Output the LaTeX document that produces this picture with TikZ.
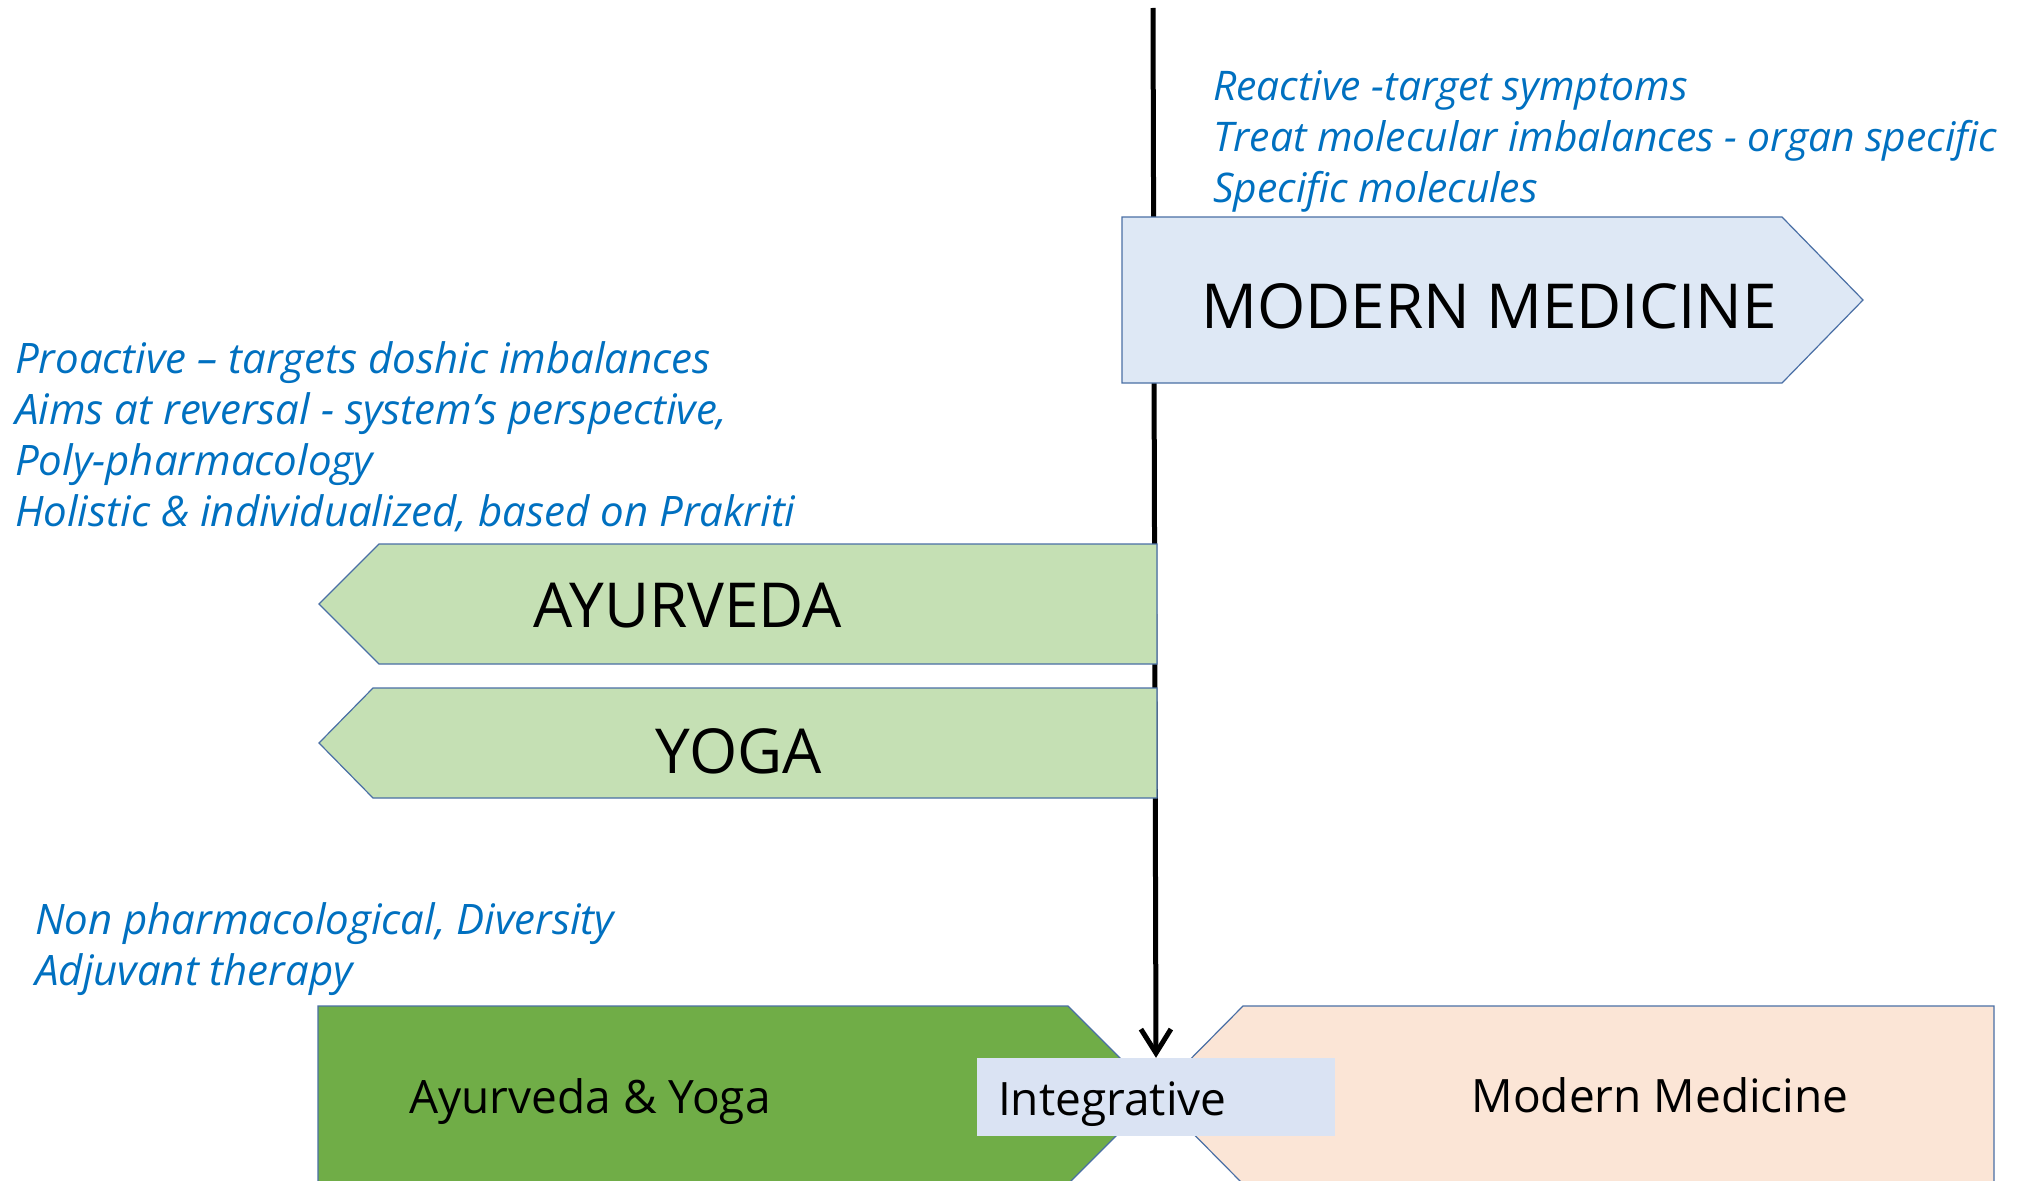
\documentclass[tikz,border=0pt]{standalone}
\usepackage{fontspec}
\setmainfont{Open Sans}
\usetikzlibrary{arrows.meta,backgrounds}
\definecolor{remarkblue}{HTML}{0070C0}
\definecolor{edge}{HTML}{4A6FA5}
\definecolor{mmfill}{HTML}{DEE8F5}
\definecolor{ayfill}{HTML}{C5E0B4}
\definecolor{leaf}{HTML}{70AD47}
\definecolor{peach}{HTML}{FBE5D6}
\definecolor{mixbg}{HTML}{DAE3F3}
\tikzset{
  panel/.style={draw=edge, line width=1.2pt, line join=miter},
  big/.style={text=black, font=\fontsize{62}{70}\selectfont, anchor=base, inner sep=0pt},
  mid/.style={text=black, font=\fontsize{46}{56}\selectfont, anchor=base, inner sep=0pt},
  remark/.style={text=remarkblue, font=\itshape\fontsize{42}{51}\selectfont, align=left, anchor=base west, inner sep=0pt},
  axis/.style={draw=black, line width=5pt, -{Straight Barb[length=24pt,width=30pt]}},
}
\begin{document}
\begin{tikzpicture}[x=1pt, y=-1pt]
  \useasboundingbox (0,0) rectangle (2017,1180);
  % modern medicine, pointing right
  \filldraw[panel, fill=mmfill] (1122,217) -- (1782,217) -- (1863,300) -- (1782,383) -- (1122,383) -- cycle;
  \node[big] (mm) at (1489,328) {MODERN MEDICINE};
  % ayurveda and yoga, pointing left
  \filldraw[panel, fill=ayfill] (1157,544) -- (379,544) -- (319,604) -- (379,664) -- (1157,664) -- cycle;
  \node[big] (ayur) at (688,627) {AYURVEDA};
  \filldraw[panel, fill=ayfill] (1157,688) -- (373,688) -- (319,743) -- (373,798) -- (1157,798) -- cycle;
  \node[big] (yoga) at (739,773) {YOGA};
  % bottom band
  \filldraw[panel, fill=leaf] (318,1006) -- (1068,1006) -- (1157,1095) -- (1068,1184) -- (318,1184) -- cycle;
  \filldraw[panel, fill=peach] (1243,1006) -- (1994,1006) -- (1994,1184) -- (1243,1184) -- (1155,1095) -- cycle;
  \node[mid] (both) at (590,1113) {Ayurveda \& Yoga};
  \node[mid] (modern) at (1660,1112) {Modern Medicine};
  \node[mid, anchor=center, fill=mixbg, minimum height=78pt, text width=316pt, inner xsep=21pt,
        align=left, text height=44pt, text depth=8pt] (integ) at (1156,1097) {Integrative};
  % remarks (anchored at the last baseline)
  \node[remark, font=\itshape\fontsize{40.8}{51}\selectfont] (react) at (1213,202) {Reactive -target symptoms\\Treat molecular imbalances - organ specific\\Specific molecules};
  \node[remark] (proact) at (15,526) {Proactive -- targets doshic imbalances\\Aims at reversal - system’s perspective,\\Poly-pharmacology\\Holistic \& individualized, based on Prakriti};
  \node[remark] (nonph) at (35,985) {Non pharmacological, Diversity\\Adjuvant therapy};
  \begin{scope}[on background layer]
    \fill[white] (0,0) rectangle (2017,1180);
    \coordinate (top) at (1153,8);
    \draw[axis] (top) -- (integ.north);
  \end{scope}
\end{tikzpicture}
\end{document}
